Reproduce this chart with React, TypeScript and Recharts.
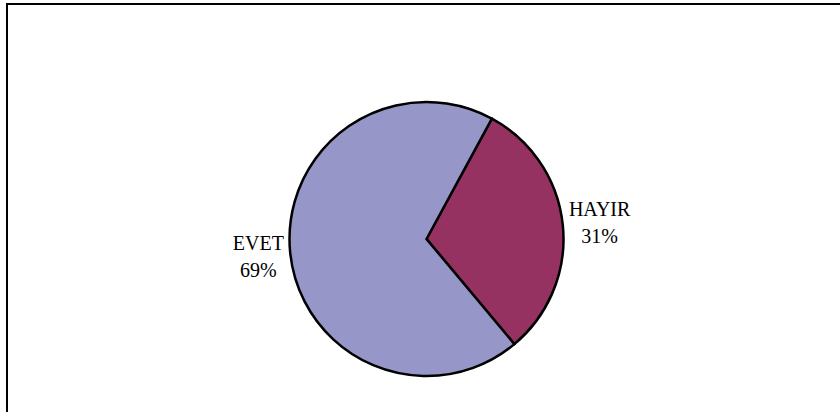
import React from "react";
import { PieChart, Pie, Cell } from "recharts";

const categories = ["HAYIR", "EVET"];
const shares = [31, 69];
const sliceColors = ["#953262", "#9696C9"];

const data = categories.map((name, i) => ({ name, value: shares[i] }));

const RADIAN = Math.PI / 180;

// two-line label (name, then percent) centred just outside the slice
const renderLabel = (p: any) => {
  const cos = Math.cos(-p.midAngle * RADIAN);
  const sin = Math.sin(-p.midAngle * RADIAN);
  const r = p.outerRadius + (cos < 0 ? 32 : 37);
  const x = p.cx + r * cos;
  const y = p.cy + r * sin;
  return (
    <text
      x={x}
      y={y}
      textAnchor="middle"
      fill="#000"
      fontFamily="'Liberation Serif', 'Times New Roman', serif"
      fontSize={20}
    >
      <tspan x={x} dy={-6}>{p.name}</tspan>
      <tspan x={x} dy={27}>{`${Math.round(p.percent * 100)}%`}</tspan>
    </text>
  );
};

export default function App() {
  return (
    <div
      style={{
        position: "fixed",
        left: 0,
        top: 0,
        width: 840,
        height: 412,
        overflow: "hidden",
        background: "#fff",
      }}
    >
      <div
        style={{
          position: "absolute",
          left: 6,
          top: 3,
          width: 900,
          height: 500,
          borderLeft: "2px solid #000",
          borderTop: "2px solid #000",
        }}
      />
      <div style={{ position: "absolute", left: 0, top: 0 }}>
        <PieChart width={840} height={412}>
          <Pie
            data={data}
            dataKey="value"
            nameKey="name"
            cx={421.5}
            cy={234}
            outerRadius={137}
            startAngle={61.5}
            endAngle={-298.5}
            stroke="#000"
            strokeWidth={2.5}
            labelLine={false}
            label={renderLabel}
            isAnimationActive={false}
          >
            {data.map((d, i) => (
              <Cell key={d.name} fill={sliceColors[i]} />
            ))}
          </Pie>
        </PieChart>
      </div>
    </div>
  );
}
